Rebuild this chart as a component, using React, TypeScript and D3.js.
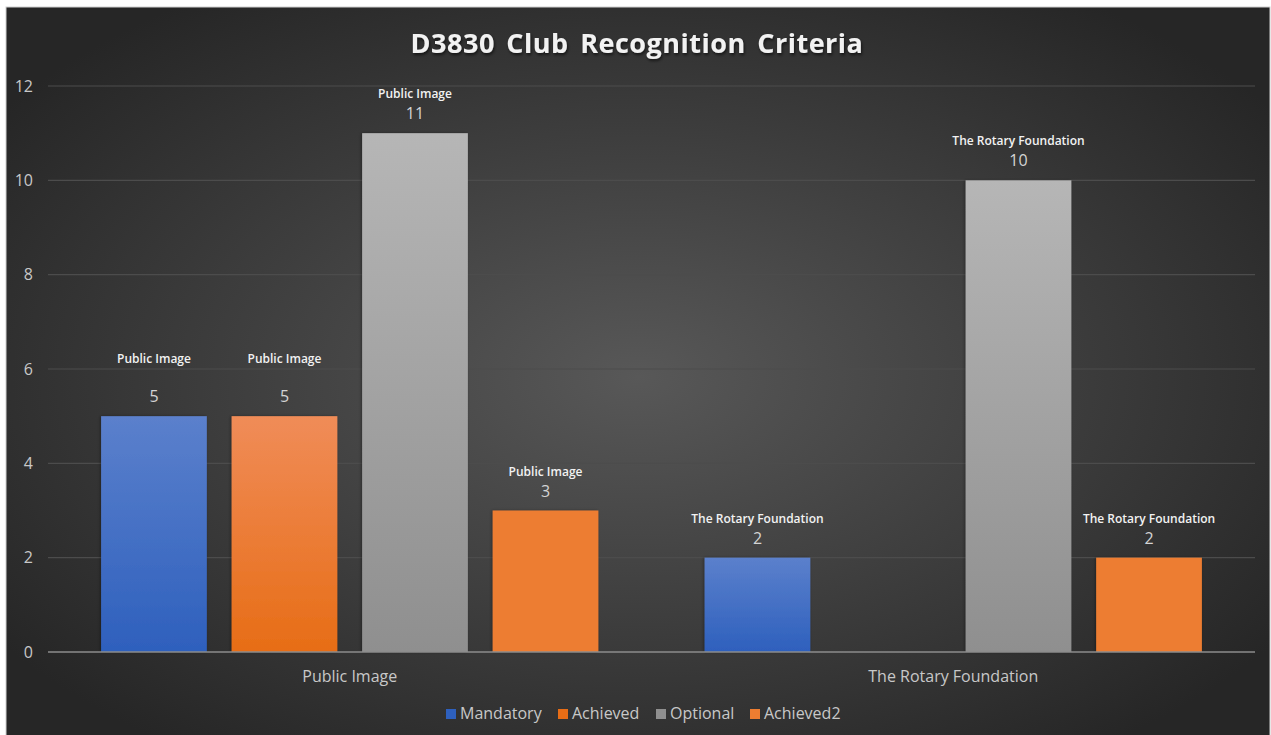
import React from "react";
import { scaleBand, scaleLinear } from "d3";

const categories = ["Public Image", "The Rotary Foundation"];
const series = ["Mandatory", "Achieved", "Optional", "Achieved2"];
const values: (number | null)[][] = [
  [5, 5, 11, 3],
  [2, null, 10, 2],
];
const yTicks = [0, 2, 4, 6, 8, 10, 12];
// labels that Excel pushed a bit higher
const liftedLabels = ["Public Image|Mandatory", "Public Image|Achieved"];

const colors: Record<string, [string, string]> = {
  Mandatory: ["#5b80cc", "#2e60bd"],
  Achieved: ["#f08c58", "#e76d16"],
  Optional: ["#b6b6b6", "#8f8f8f"],
  Achieved2: ["#ed7d31", "#ed7d31"],
};
const legendX = [446, 558, 656, 750];

const width = 1271;
const height = 735;
const font = "'Open Sans', 'Noto Sans', sans-serif";

const x0 = scaleBand<string>()
  .domain(categories)
  .range([48, 1255])
  .paddingInner(0.176)
  .paddingOuter(0.088);
const x1 = scaleBand<string>()
  .domain(series)
  .range([0, x0.bandwidth()])
  .paddingInner(0.19);
const y = scaleLinear().domain([0, 12]).range([652, 86]);

export default function App() {
  return (
    <svg
      width={width}
      height={height}
      viewBox={`0 0 ${width} ${height}`}
      style={{ position: "absolute", left: 0, top: 0, background: "white" }}
    >
      <defs>
        <radialGradient id="bg" cx="0.5" cy="0.5" r="0.62" gradientUnits="objectBoundingBox">
          <stop offset="0" stopColor="#585858" />
          <stop offset="1" stopColor="#262626" />
        </radialGradient>
        {series.map((s) => (
          <linearGradient key={s} id={`g-${s}`} x1="0" y1="0" x2="0" y2="1">
            <stop offset="0" stopColor={colors[s][0]} />
            <stop offset="1" stopColor={colors[s][1]} />
          </linearGradient>
        ))}
        <filter id="shadow" x="-10%" y="-30%" width="120%" height="160%">
          <feDropShadow dx="1" dy="2" stdDeviation="1.5" floodColor="#000" floodOpacity="0.6" />
        </filter>
        <filter id="barShadow" x="-10%" y="-5%" width="120%" height="110%">
          <feDropShadow dx="-1" dy="0" stdDeviation="1.5" floodColor="#000" floodOpacity="0.35" />
        </filter>
      </defs>
      <rect x={6} y={7} width={1264} height={740} fill="url(#bg)" stroke="#d0d0d0" strokeWidth={1} />

      <text
        x={637}
        y={53}
        textAnchor="middle"
        fontFamily={font}
        fontWeight="bold"
        fontSize={27}
        fill="#f2f2f2"
        letterSpacing={0.5}
        wordSpacing={4}
        filter="url(#shadow)"
      >
        D3830 Club Recognition Criteria
      </text>

      {yTicks.map((t) => (
        <g key={t}>
          {t > 0 && <line x1={48} x2={1255} y1={y(t)} y2={y(t)} stroke="#4c4c4c" strokeWidth={1.2} />}
          <text
            x={33}
            y={y(t)}
            dy="0.35em"
            textAnchor="end"
            fontFamily={font}
            fontSize={16}
            fill="#c8c8c8"
          >
            {t}
          </text>
        </g>
      ))}

      {categories.map((c, ci) => (
        <g key={c} transform={`translate(${x0(c)},0)`}>
          {series.map((s, si) => {
            const v = values[ci][si];
            if (v == null) return null;
            const bx = x1(s)!;
            const top = y(v);
            const lifted = liftedLabels.includes(`${c}|${s}`);
            const cx = bx + x1.bandwidth() / 2;
            return (
              <g key={s}>
                <rect
                  x={bx}
                  y={top}
                  width={x1.bandwidth()}
                  height={y(0) - top}
                  fill={`url(#g-${s})`}
                  filter="url(#barShadow)"
                />
                <text
                  x={cx}
                  y={top - (lifted ? 53 : 35)}
                  textAnchor="middle"
                  fontFamily={font}
                  fontWeight={600}
                  fontSize={12}
                  fill="#f2f2f2"
                >
                  {c}
                </text>
                <text
                  x={cx}
                  y={top - 14}
                  textAnchor="middle"
                  fontFamily={font}
                  fontSize={16}
                  fill="#d4d4d4"
                >
                  {v}
                </text>
              </g>
            );
          })}
          <text
            x={x0.bandwidth() / 2}
            y={682}
            textAnchor="middle"
            fontFamily={font}
            fontSize={16}
            fill="#c8c8c8"
          >
            {c}
          </text>
        </g>
      ))}

      <line x1={48} x2={1255} y1={y(0)} y2={y(0)} stroke="#8c8c8c" strokeWidth={1.5} />

      {series.map((s, i) => (
        <g key={s} transform={`translate(${legendX[i]},709)`}>
          <rect width={10} height={10} fill={colors[s][1]} />
          <text x={14} y={10} fontFamily={font} fontSize={16} fill="#c8c8c8">
            {s}
          </text>
        </g>
      ))}
    </svg>
  );
}
